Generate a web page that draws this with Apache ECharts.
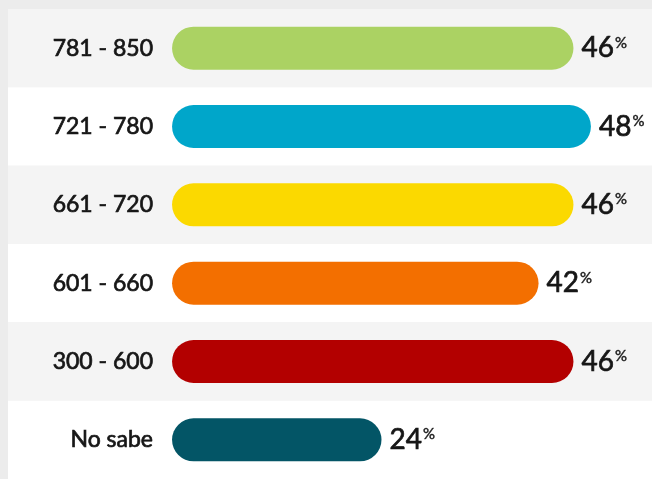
<!DOCTYPE html>
<html>
<head>
<meta charset="utf-8">
<script src="https://cdn.jsdelivr.net/npm/echarts@6/dist/echarts.min.js"></script>
<style>
  html, body { margin: 0; padding: 0; background: #ececec; }
  #chart { width: 652px; height: 479px; }
</style>
</head>
<body>
<div id="chart"></div>
<script>
// rangos de puntaje, de arriba hacia abajo
const categories = ['781 - 850', '721 - 780', '661 - 720', '601 - 660', '300 - 600', 'No sabe']
const percents = [46, 48, 46, 42, 46, 24]
const barColors = ['#abd263', '#00a6ca', '#fbd900', '#f36f00', '#b30000', '#035566']

const ink = '#161616'
// trazo fino para que Lato regular se vea "medium"
const medium = { textBorderColor: ink, textBorderWidth: 0.7 }

const chart = echarts.init(document.getElementById('chart'))

chart.setOption({
  animation: false,
  textStyle: { fontFamily: 'Lato' },
  grid: {
    left: 8,
    right: 0,
    top: 9,
    bottom: 0
  },
  xAxis: {
    type: 'value',
    min: -18.8,
    max: 55,
    show: false
  },
  yAxis: {
    type: 'category',
    inverse: true,
    data: categories,
    axisLine: { show: false },
    axisTick: { show: false },
    axisLabel: {
      margin: -145,
      fontSize: 23,
      color: ink,
      ...medium
    },
    splitArea: {
      show: true,
      areaStyle: { color: ['#f4f4f4', '#ffffff'] }
    }
  },
  series: [
    {
      type: 'bar',
      barWidth: 43,
      data: percents.map((v, i) => ({
        value: v,
        itemStyle: { color: barColors[i] }
      })),
      itemStyle: { borderRadius: 21.5 },
      label: {
        show: true,
        position: 'right',
        distance: 8,
        formatter: p => `{v|${p.value}}{p|%}`,
        rich: {
          v: { fontSize: 28, color: ink, fontFamily: 'Lato', ...medium },
          p: { fontSize: 15, color: ink, fontFamily: 'Lato', padding: [0, 0, 11, 1], textBorderColor: ink, textBorderWidth: 0.4 }
        }
      }
    }
  ]
})
</script>
</body>
</html>
